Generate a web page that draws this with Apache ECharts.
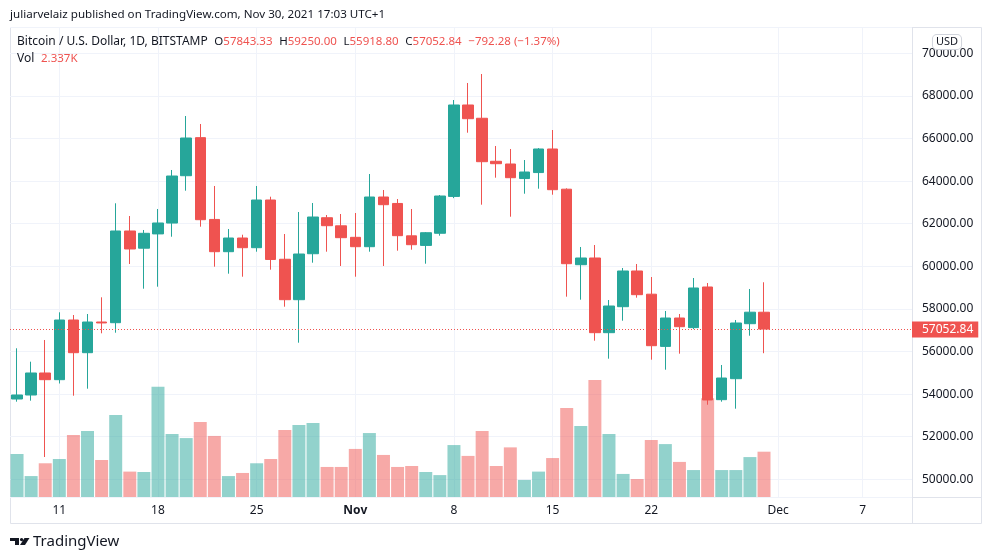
<!DOCTYPE html>
<html><head><meta charset="utf-8">
<script src="https://cdn.jsdelivr.net/npm/echarts@6/dist/echarts.min.js"></script>
<style>html,body{margin:0;padding:0;background:#fff}#c{width:992px;height:560px}</style>
</head><body><div id="c"></div>
<script>
// ---- data ----
const candleDates = [
 '2021-10-08','2021-10-09','2021-10-10','2021-10-11','2021-10-12','2021-10-13','2021-10-14','2021-10-15',
 '2021-10-16','2021-10-17','2021-10-18','2021-10-19','2021-10-20','2021-10-21','2021-10-22','2021-10-23',
 '2021-10-24','2021-10-25','2021-10-26','2021-10-27','2021-10-28','2021-10-29','2021-10-30','2021-10-31',
 '2021-11-01','2021-11-02','2021-11-03','2021-11-04','2021-11-05','2021-11-06','2021-11-07','2021-11-08',
 '2021-11-09','2021-11-10','2021-11-11','2021-11-12','2021-11-13','2021-11-14','2021-11-15','2021-11-16',
 '2021-11-17','2021-11-18','2021-11-19','2021-11-20','2021-11-21','2021-11-22','2021-11-23','2021-11-24',
 '2021-11-25','2021-11-26','2021-11-27','2021-11-28','2021-11-29','2021-11-30'];
const futureDates = ['2021-12-01','2021-12-02','2021-12-03','2021-12-04','2021-12-05','2021-12-06',
 '2021-12-07','2021-12-08','2021-12-09','2021-12-10'];
const opens = [53769,53957,54990,54676,57478,55943,57384,57352,61657,60850,61520,62030,64253,66040,62200,60685,
 61328,60873,63112,60330,58432,60590,62280,61900,61360,60920,63253,62950,61430,60980,61550,63280,
 67573,66950,64930,64803,64120,64400,65507,63620,60075,60390,56883,58103,59779,58690,56240,57572,
 57120,59028,53737,54723,57305,57843.33];
const highs = [56150,55521,56540,57840,57713,57760,58544,62958,62361,61704,62690,64521,67056,66681,63770,61751,
 61483,63770,63267,61516,62549,62972,62408,62455,62502,64333,63582,63159,62690,61610,63347,67807,
 68606,69028,65648,65507,64990,65550,66399,63660,60906,60999,58417,59920,60108,59497,57901,57760,
 59450,59215,55366,57479,58934,59250.00];
const lows = [53643,53690,51046,54497,53924,54253,56854,56882,60107,58948,59042,61389,63549,61859,59981,59653,
 59511,60685,59840,58103,56413,60169,60685,60014,59511,60685,60014,60732,60779,60122,61437,63200,
 66272,62892,64160,62328,63408,63643,63361,58573,58432,56507,55662,57446,58526,55615,55145,55897,
 57050,53500,53643,53314,56741,55918.80];
const closes = [53957,54990,54676,57478,55943,57384,57340,61657,60812,61549,62033,64239,66023,62188,60685,61328,
 60873,63112,60320,58432,60577,62314,61906,61343,60920,63253,62892,61437,61014,61577,63300,67573,
 66930,64911,64817,64160,64427,65507,63596,60122,60390,56883,58135,59779,58667,56272,57572,57164,
 58981,53723,54755,57338,57845.12,57052.84];
const volumesK = [2.22,1.08,1.74,1.96,3.20,3.40,1.91,4.23,1.31,1.29,5.69,3.25,3.04,3.87,3.15,1.08,
 1.24,1.74,1.96,3.46,3.71,3.82,1.55,1.55,2.48,3.30,2.17,1.55,1.60,1.29,1.13,2.68,
 2.12,3.40,1.60,2.56,0.88,1.31,2.01,4.59,3.66,6.04,3.25,1.19,0.93,2.94,2.73,1.81,
 1.39,5.09,1.39,1.39,2.06,2.337];
const xTickDates = ['2021-10-11','2021-10-18','2021-10-25','2021-11-01','2021-11-08','2021-11-15','2021-11-22','2021-12-01','2021-12-07'];
const xTickLabels = ['11','18','25','Nov','8','15','22','Dec','7'];
const priceMin = 49168, priceMax = 71235, priceStep = 2000;
const volAxisMax = 24.25;

// ---- styles ----
const UP = '#26a69a', DOWN = '#ef5350';
const UP_VOL = 'rgba(38,166,154,0.5)', DOWN_VOL = 'rgba(239,83,80,0.5)';
const TXT = '#131722', GRID = '#f0f3fa', BORDER = '#e0e3eb';
const FONT = '"Noto Sans", sans-serif';
const PLOT_L = 10, PLOT_R = 912, PLOT_T = 27, PLOT_B = 497;

const categories = candleDates.concat(futureDates);
const candleData = candleDates.map((d, i) => [opens[i], closes[i], lows[i], highs[i]]);
const volData = candleDates.map((d, i) => ({
  value: volumesK[i],
  itemStyle: { color: closes[i] >= opens[i] ? UP_VOL : DOWN_VOL }
}));
const n = candleDates.length;
const lastO = opens[n-1], lastH = highs[n-1], lastL = lows[n-1], lastC = closes[n-1];
const chg = lastC - closes[n-2];
const chgPct = chg / closes[n-2] * 100;
const minus = v => (v < 0 ? '\u2212' : '+') + Math.abs(v).toFixed(2);
const isTick = (idx, val) => xTickDates.indexOf(val) >= 0;

const baseGraphics = [
  { type: 'rect', z: 0, silent: true, shape: { x: 10.5, y: 27.5, width: 971, height: 496 },
    style: { fill: 'none', stroke: BORDER, lineWidth: 1 } },
  { type: 'line', z: 0, silent: true, shape: { x1: 912.5, y1: 27, x2: 912.5, y2: 524 },
    style: { stroke: BORDER, lineWidth: 1 } },
  { type: 'line', z: 0, silent: true, shape: { x1: 10, y1: 497.5, x2: 982, y2: 497.5 },
    style: { stroke: BORDER, lineWidth: 1 } },
  { type: 'text', z: 10, x: 10, y: 15, silent: true,
    style: { text: 'juliarvelaiz published on TradingView.com, Nov 30, 2021 17:03 UTC+1',
      fill: TXT, font: '11.6px ' + FONT, verticalAlign: 'middle' } },
  { type: 'text', z: 10, x: 17, y: 42, silent: true,
    style: {
      text: '{t|Bitcoin / U.S. Dollar, 1D, BITSTAMP}  {k|O}{v|' + lastO.toFixed(2) + '}  {k|H}{v|' + lastH.toFixed(2) +
            '}  {k|L}{v|' + lastL.toFixed(2) + '}  {k|C}{v|' + lastC.toFixed(2) + '}  {v|' + minus(chg) + ' (' + minus(chgPct) + '%)}',
      verticalAlign: 'middle',
      rich: { t: { fill: TXT, font: '12px ' + FONT }, k: { fill: TXT, font: '11.5px ' + FONT },
              v: { fill: DOWN, font: '11.5px ' + FONT } }
    } },
  { type: 'text', z: 10, x: 17, y: 59, silent: true,
    style: {
      text: '{t|Vol}  {v|' + volumesK[n-1].toFixed(3) + 'K}', verticalAlign: 'middle',
      rich: { t: { fill: TXT, font: '12px ' + FONT }, v: { fill: DOWN, font: '11.5px ' + FONT } }
    } },
  { type: 'text', z: 20, x: 947, y: 42, silent: true,
    style: { text: 'USD', fill: TXT, font: '11px ' + FONT, align: 'center', verticalAlign: 'middle',
      backgroundColor: '#fff', borderColor: '#d1d4dc', borderWidth: 1, borderRadius: 4, padding: [2, 3, 1, 3] } },
  { type: 'rect', z: 10, silent: true, shape: { x: 10, y: 538, width: 9, height: 3 }, style: { fill: TXT } },
  { type: 'rect', z: 10, silent: true, shape: { x: 15, y: 538, width: 4, height: 7 }, style: { fill: TXT } },
  { type: 'circle', z: 10, silent: true, shape: { cx: 21.6, cy: 539.6, r: 1.7 }, style: { fill: TXT } },
  { type: 'polygon', z: 10, silent: true, shape: { points: [[24.5, 538], [29.5, 538], [25, 545], [20, 545]] }, style: { fill: TXT } },
  { type: 'text', z: 10, x: 33, y: 542, silent: true,
    style: { text: 'TradingView', fill: TXT, font: '15px ' + FONT, verticalAlign: 'middle' } }
];

const chart = echarts.init(document.getElementById('c'));
chart.setOption({
  animation: false,
  backgroundColor: '#fff',
  textStyle: { fontFamily: FONT },
  grid: { left: PLOT_L, right: 992 - PLOT_R, top: PLOT_T, bottom: 560 - PLOT_B },
  xAxis: {
    type: 'category', data: categories, boundaryGap: true,
    axisLine: { show: false }, axisTick: { show: false },
    axisLabel: {
      interval: isTick, color: TXT, fontSize: 12, margin: 8, fontFamily: FONT,
      formatter: val => {
        const t = xTickLabels[xTickDates.indexOf(val)];
        return t === 'Nov' ? '{b|' + t + '}' : t;
      },
      rich: { b: { fontWeight: 'bold', fontSize: 12, color: TXT, fontFamily: FONT } }
    },
    splitLine: { show: true, interval: isTick, alignWithLabel: true, lineStyle: { color: GRID, width: 1 } }
  },
  yAxis: [{
    type: 'value', position: 'right', scale: true,
    min: priceMin, max: priceMax, minInterval: priceStep, maxInterval: priceStep, splitNumber: 11,
    axisLine: { show: false }, axisTick: { show: false },
    axisLabel: {
      color: TXT, fontSize: 12, margin: 10, fontFamily: FONT,
      showMinLabel: false, showMaxLabel: false,
      formatter: v => (v % priceStep === 0 ? v.toFixed(2) : '')
    },
    splitLine: { lineStyle: { color: GRID, width: 1 } }
  }, {
    type: 'value', min: 0, max: volAxisMax, show: false, splitLine: { show: false }
  }],
  series: [{
    type: 'bar', name: 'Vol', yAxisIndex: 1, data: volData, barWidth: '92%', z: 1
  }, {
    type: 'candlestick', name: 'BTCUSD', data: candleData, barWidth: 11, z: 3,
    itemStyle: { color: UP, color0: DOWN, borderColor: UP, borderColor0: DOWN, borderWidth: 1 }
  }],
  graphic: baseGraphics
});

// last-price line, positioned through the price axis scale
const yLast = Math.round(chart.convertToPixel({ yAxisIndex: 0 }, lastC)) + 0.5;
chart.setOption({
  graphic: baseGraphics.concat([
    { type: 'line', z: 30, silent: true,
      shape: { x1: PLOT_L, y1: yLast, x2: PLOT_R, y2: yLast },
      style: { stroke: DOWN, lineWidth: 1, lineDash: [1, 2] } },
    { type: 'text', z: 30, silent: true, x: PLOT_R, y: yLast,
      style: { text: lastC.toFixed(2), fill: '#fff', font: '12px ' + FONT, verticalAlign: 'middle',
        backgroundColor: DOWN, padding: [2, 5, 2, 10], lineHeight: 12 } }
  ])
});
</script></body></html>
